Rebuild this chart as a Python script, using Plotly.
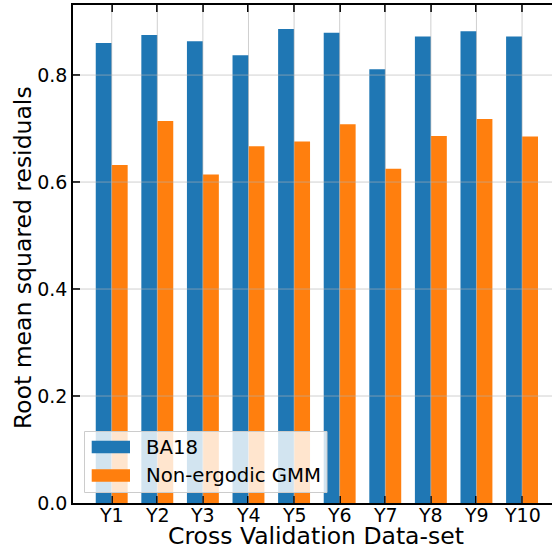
import plotly.graph_objects as go

categories = ["Y1", "Y2", "Y3", "Y4", "Y5", "Y6", "Y7", "Y8", "Y9", "Y10"]
ba18 = [0.860, 0.875, 0.863, 0.837, 0.886, 0.879, 0.811, 0.872, 0.882, 0.872]
nonergodic = [0.632, 0.714, 0.614, 0.667, 0.676, 0.708, 0.625, 0.686, 0.718, 0.685]
ytick_vals = [0.0, 0.2, 0.4, 0.6, 0.8]
ytick_text = ["0.0", "0.2", "0.4", "0.6", "0.8"]
series_names = ["BA18", "Non-ergodic GMM"]
colors = ["#1f77b4", "#ff7f0e"]
x_title = "Cross Validation Data-set"
y_title = "Root mean squared residuals"

W, H = 552, 550
ML, MR, MT, MB = 73, 0, 5, 47
PW, PH = W - ML - MR, H - MT - MB
FONT = "DejaVu Sans"
TICK_SIZE = 19
LEG_SIZE = 19.7
TITLE_SIZE = 23.5

def px(x):
    return (x - ML) / PW

def py(y):
    return (H - MB - y) / PH

xs = list(range(len(categories)))
bw = 0.35

fig = go.Figure()
fig.add_trace(go.Bar(x=xs, y=ba18, width=bw, offset=-bw, marker=dict(color=colors[0], line=dict(width=0)),
                     name=series_names[0], showlegend=False))
fig.add_trace(go.Bar(x=xs, y=nonergodic, width=bw, offset=0, marker=dict(color=colors[1], line=dict(width=0)),
                     name=series_names[1], showlegend=False))

shapes = []
grid_col = "rgba(176,176,176,0.6)"
for xv in xs:
    shapes.append(dict(type="line", xref="x", yref="paper", x0=xv, x1=xv, y0=0, y1=1,
                       line=dict(color=grid_col, width=1), layer="above"))
for yv in ytick_vals[1:]:
    shapes.append(dict(type="line", xref="paper", yref="y", x0=0, x1=1, y0=yv, y1=yv,
                       line=dict(color=grid_col, width=1), layer="above"))

# legend box
shapes.append(dict(type="rect", xref="paper", yref="paper", x0=px(84.5), x1=px(327), y0=py(492.5), y1=py(431.5),
                   fillcolor="rgba(255,255,255,0.8)", line=dict(color="#cccccc", width=1), layer="above"))
patch_y = [(440.7, 453.3), (469.3, 481.7)]
text_y = [447, 475.5]
annotations = []
for i in range(2):
    shapes.append(dict(type="rect", xref="paper", yref="paper", x0=px(91.7), x1=px(130),
                       y0=py(patch_y[i][1]), y1=py(patch_y[i][0]),
                       fillcolor=colors[i], line=dict(width=0), layer="above"))
    annotations.append(dict(text=series_names[i], xref="paper", yref="paper", x=px(144), y=py(text_y[i]),
                            xanchor="left", yanchor="middle", showarrow=False,
                            font=dict(family=FONT, size=LEG_SIZE, color="black")))

# x tick labels (placed just below the axis like the reference)
for xv, lab in zip(xs, categories):
    annotations.append(dict(text=lab, xref="x", yref="paper", x=xv, y=py(514.5),
                            xanchor="center", yanchor="middle", showarrow=False,
                            font=dict(family=FONT, size=TICK_SIZE, color="black")))

# axis titles
annotations.append(dict(text=x_title, xref="paper", yref="paper", x=px(316), y=py(535.5),
                        xanchor="center", yanchor="middle", showarrow=False,
                        font=dict(family=FONT, size=TITLE_SIZE, color="black")))
annotations.append(dict(text=y_title, xref="paper", yref="paper", x=px(23), y=py(258),
                        xanchor="center", yanchor="middle", showarrow=False, textangle=-90,
                        font=dict(family=FONT, size=TITLE_SIZE, color="black")))

fig.update_layout(
    width=W, height=H,
    margin=dict(l=ML, r=MR, t=MT, b=MB, pad=0),
    plot_bgcolor="white", paper_bgcolor="white",
    font=dict(family=FONT, color="black"),
    barmode="overlay",
    shapes=shapes,
    annotations=annotations,
    xaxis=dict(range=[-0.849, 9.657], tickmode="array", tickvals=xs, ticktext=categories,
               showticklabels=False,
               ticks="inside", ticklen=7, tickwidth=1.5, tickcolor="black",
               showline=True, linecolor="black", linewidth=1.5, mirror="ticks",
               showgrid=False, zeroline=False),
    yaxis=dict(range=[0, 0.931], tickmode="array", tickvals=ytick_vals, ticktext=ytick_text,
               ticks="inside", ticklen=7, tickwidth=1.5, tickcolor="black",
               showline=True, linecolor="black", linewidth=1.5, mirror=False,
               showgrid=False, zeroline=False,
               tickfont=dict(family=FONT, size=TICK_SIZE, color="black")),
)

fig.write_html("out.html")
